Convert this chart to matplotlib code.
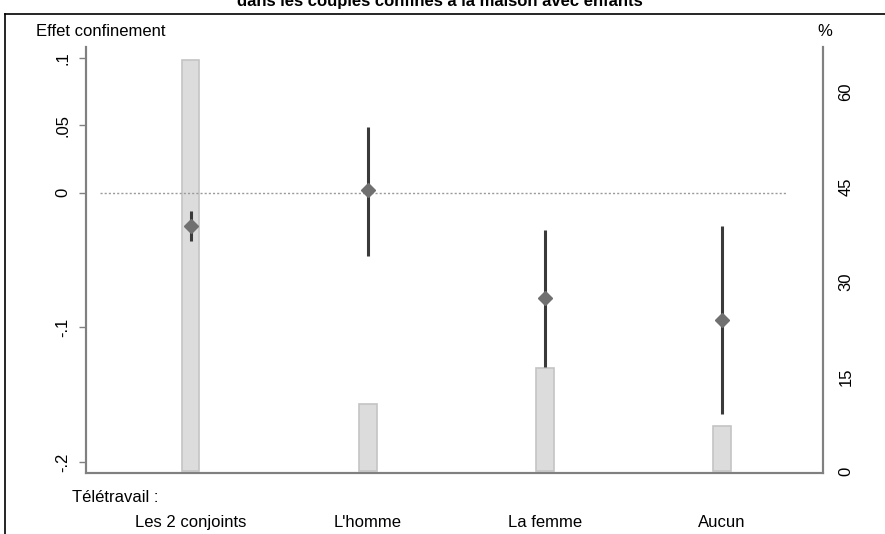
import numpy as np
import matplotlib.pyplot as plt
from matplotlib.lines import Line2D

plt.rcParams['font.family'] = ['Liberation Sans', 'DejaVu Sans']

categories = ['Les 2 conjoints', "L'homme", 'La femme', 'Aucun']
effet = [-0.0245, 0.002, -0.0785, -0.0948]
ci_low = [-0.0356, -0.047, -0.1296, -0.1644]
ci_high = [-0.014, 0.049, -0.0274, -0.025]
part_pct = [65.0, 10.6, 16.3, 7.1]

x = np.arange(1, len(categories) + 1)

fig = plt.figure(figsize=(8.85, 5.34), dpi=100)
ax2 = fig.add_axes([86 / 885, 1 - 473 / 534, (823 - 86) / 885, (473 - 47) / 534])
ax = ax2.twinx()
# effect axis on the left, share axis on the right
ax.yaxis.tick_left()
ax2.yaxis.tick_right()
ax.set_zorder(ax2.get_zorder() + 1)
ax.patch.set_visible(False)

ax2.bar(x, part_pct, width=0.1, color='#dcdcdc', edgecolor='#c4c4c4', linewidth=1.2)
ax2.set_ylim(-0.3, 67.1)
ax2.set_yticks([0, 15, 30, 45, 60])
ax2.tick_params(axis='y', length=0, pad=11, labelsize=12, labelrotation=90)
for lab in ax2.get_yticklabels():
    lab.set_va('center')

ax.hlines(0, 0.49, 4.36, colors='#9a9a9a', linestyles=(0, (1.5, 1.5)), linewidth=1)
ax.vlines(x, ci_low, ci_high, colors='#3a3a3a', linewidth=2.2)
ax.plot(x, effet, linestyle='none', marker='D', markersize=7, color='#707070')
ax.set_ylim(-0.208, 0.108)
ax.set_yticks([-0.2, -0.1, 0, 0.05, 0.1])
ax.set_yticklabels(['-.2', '-.1', '0', '.05', '.1'])
ax.tick_params(axis='y', length=5, width=1, color='#808080', pad=6, labelsize=12, labelrotation=90)
for lab in ax.get_yticklabels():
    lab.set_va('center')

ax2.set_xlim(0.41, 4.57)
ax2.set_xticks(x)
ax2.set_xticklabels(categories)
ax2.tick_params(axis='x', length=0, pad=30, labelsize=12)

for a in (ax, ax2):
    a.spines['top'].set_visible(False)
    for s in ('left', 'right', 'bottom'):
        a.spines[s].set_color('#808080')
        a.spines[s].set_linewidth(1.5)

fig.text(36 / 885, 1 - 31 / 534, 'Effet confinement', fontsize=12, va='center', ha='left')
fig.text(825 / 885, 1 - 31 / 534, '%', fontsize=12, va='center', ha='center')
fig.text(72 / 885, 1 - 497 / 534, 'Télétravail :', fontsize=12, va='center', ha='left')
fig.text(0.497, 1 - 6 / 534, 'dans les couples confinés à la maison avec enfants',
         fontsize=12, fontweight='bold', ha='center', va='baseline')

# outer frame, cut at right and bottom
fig.add_artist(Line2D([5 / 885, 1], [1 - 14 / 534, 1 - 14 / 534], color='black', linewidth=1.2))
fig.add_artist(Line2D([5 / 885, 5 / 885], [0, 1 - 14 / 534], color='black', linewidth=1.2))

fig.savefig('out.png', dpi=100)
